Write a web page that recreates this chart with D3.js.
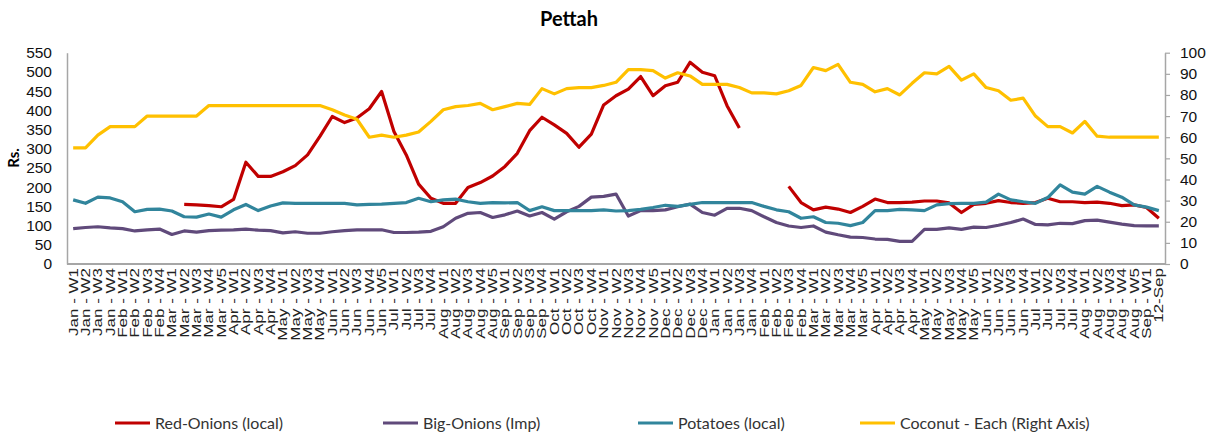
<!DOCTYPE html>
<html lang="en">
<head>
<meta charset="UTF-8">
<title>Pettah</title>
<script src="https://d3js.org/d3.v7.min.js"></script>
<style>
    body, html {
        margin: 0;
        background: #fff;
    }
    svg {
        display: block;
        font-family: Lato, "Open Sans", sans-serif;
    }
    .axis text {
        fill: #111;
    }
</style>
</head>
<body>
<svg width="1216" height="435"></svg>
<script>
// week labels along the x axis
const weeks = [
    "Jan - W1", "Jan - W2", "Jan - W3", "Jan - W4",
    "Feb - W1", "Feb - W2", "Feb - W3", "Feb - W4",
    "Mar - W1", "Mar - W2", "Mar - W3", "Mar - W4", "Mar - W5",
    "Apr - W1", "Apr - W2", "Apr - W3", "Apr - W4",
    "May - W1", "May - W2", "May - W3", "May - W4",
    "Jun - W1", "Jun - W2", "Jun - W3", "Jun - W4", "Jun - W5",
    "Jul - W1", "Jul - W2", "Jul - W3", "Jul - W4",
    "Aug - W1", "Aug - W2", "Aug - W3", "Aug - W4", "Aug - W5",
    "Sep - W1", "Sep - W2", "Sep - W3", "Sep - W4",
    "Oct - W1", "Oct - W2", "Oct - W3", "Oct - W4",
    "Nov - W1", "Nov - W2", "Nov - W3", "Nov - W4", "Nov - W5",
    "Dec - W1", "Dec - W2", "Dec - W3", "Dec - W4",
    "Jan - W1", "Jan - W2", "Jan - W3", "Jan - W4",
    "Feb - W1", "Feb - W2", "Feb - W3", "Feb - W4",
    "Mar - W1", "Mar - W2", "Mar - W3", "Mar - W4", "Mar - W5",
    "Apr - W1", "Apr - W2", "Apr - W3", "Apr - W4",
    "May - W1", "May - W2", "May - W3", "May - W4", "May - W5",
    "Jun - W1", "Jun - W2", "Jun - W3", "Jun - W4",
    "Jul - W1", "Jul - W2", "Jul - W3", "Jul - W4",
    "Aug - W1", "Aug - W2", "Aug - W3", "Aug - W4", "Aug - W5",
    "Sep - W1", "12-Sep"
];

// Rs. (left axis)
const redOnions = [
    null, null, null, null, null, null, null, null, null,
    155, 154, 152, 149, 168, 265, 228, 228, 240, 256, 284, 332,
    384, 368, 380, 404, 449, 345, 284, 208, 171, 158, 158, 199,
    212, 229, 254, 288, 347, 382, 362, 340, 304, 338, 414, 438,
    455, 488, 438, 464, 473, 525, 499, 490, 412, 354,
    null, null, null,
    202, 160, 141, 148, 143, 134, 150, 169, 160, 160, 161, 164,
    164, 159, 134, 155, 158, 165, 160, 158, 160, 171, 162, 162,
    160, 161, 158, 152, 154, 147, 119
];
const bigOnions = [
    92, 95, 97, 94, 92, 86, 89, 91, 77, 86, 83, 87, 88, 89, 91, 88,
    87, 81, 84, 80, 80, 84, 87, 89, 89, 89, 82, 82, 83, 85, 97, 119,
    132, 134, 121, 128, 138, 125, 134, 117, 136, 150, 174, 176, 182, 125,
    139, 139, 141, 149, 156, 134, 127, 145, 145, 139, 123, 108, 99, 95,
    99, 83, 76, 70, 69, 65, 64, 59, 59, 90, 90, 94, 90, 96, 95, 101,
    108, 117, 103, 102, 106, 105, 113, 114, 109, 104, 100, 99, 99
];
const potatoes = [
    167, 158, 174, 172, 162, 136, 142, 143, 138, 123, 122, 130, 122, 141,
    155, 139, 151, 159, 158, 158, 158, 158, 158, 154, 155, 156, 158, 160,
    171, 162, 167, 169, 162, 158, 160, 159, 160, 139, 149, 139, 139, 139,
    139, 141, 138, 139, 142, 147, 153, 150, 155, 160, 160, 160, 160, 160,
    150, 141, 136, 119, 123, 108, 106, 100, 108, 139, 139, 142, 141, 139,
    154, 157, 158, 158, 161, 182, 167, 162, 158, 173, 206, 187, 182, 202,
    187, 174, 154, 148, 139
];
// Rs. each (right axis)
const coconut = [
    55, 55, 61, 65, 65, 65, 70, 70, 70, 70, 70, 75, 75, 75, 75, 75, 75,
    75, 75, 75, 75, 73, 70.5, 68.5, 60, 61, 60, 61, 62.5, 67.5, 73, 74.5,
    75, 76, 73, 74.5, 76, 75.5, 83, 80.5, 83, 83.5, 83.5, 84.5, 86, 92,
    92, 91.5, 88, 90.5, 89, 85, 85, 85, 83.5, 81, 81, 80.5, 82, 84.5, 93,
    91.5, 94.5, 86, 85, 81.5, 83, 80, 85.5, 90.5, 90, 93.5, 87, 90, 83.5,
    82, 77.5, 78.5, 70, 65, 65, 62, 67.5, 60.5, 60, 60, 60, 60, 60
];

const leftTicks = d3.range(0, 551, 50);
const rightTicks = d3.range(0, 101, 10);

const series = [
    {name: "Red-Onions (local)", values: redOnions, color: "#C00000", axis: "left"},
    {name: "Big-Onions (Imp)", values: bigOnions, color: "#604A7B", axis: "left"},
    {name: "Potatoes (local)", values: potatoes, color: "#31859C", axis: "left"},
    {name: "Coconut - Each (Right Axis)", values: coconut, color: "#FFC000", axis: "right"}
];

const svg = d3.select("svg");
const plot = {left: 67, right: 1165, top: 52.7, bottom: 264};

const x = d3.scalePoint()
    .domain(d3.range(weeks.length))
    .range([plot.left, plot.right])
    .padding(0.5);
const yL = d3.scaleLinear().domain([0, 550]).range([plot.bottom, plot.top]);
const yR = d3.scaleLinear().domain([0, 100]).range([plot.bottom, plot.top]);

// title
svg.append("text")
    .attr("x", 569)
    .attr("y", 26)
    .attr("text-anchor", "middle")
    .style("font-size", "20px")
    .style("font-weight", "bold")
    .text("Pettah");

// left axis
const gL = svg.append("g")
    .attr("class", "axis")
    .attr("transform", `translate(${plot.left},0)`)
    .call(d3.axisLeft(yL).tickValues(leftTicks).tickSize(0).tickPadding(15).tickSizeOuter(0));
gL.select(".domain").attr("stroke", "#a6a6a6").attr("stroke-width", 1.5);
gL.selectAll("text").style("font-size", "15.5px");

// right axis
const gR = svg.append("g")
    .attr("class", "axis")
    .attr("transform", `translate(${plot.right},0)`)
    .call(d3.axisRight(yR).tickValues(rightTicks).tickSize(5).tickPadding(10).tickSizeOuter(0));
gR.select(".domain").attr("stroke", "#a6a6a6").attr("stroke-width", 1.5);
gR.selectAll(".tick line").attr("stroke", "#a6a6a6").attr("stroke-width", 1.2);
gR.selectAll("text").style("font-size", "15.5px");

// bottom axis line
svg.append("line")
    .attr("x1", plot.left).attr("x2", plot.right)
    .attr("y1", plot.bottom).attr("y2", plot.bottom)
    .attr("stroke", "#a6a6a6").attr("stroke-width", 2);

// y axis title
svg.append("text")
    .attr("transform", "translate(19,158) rotate(-90)")
    .attr("text-anchor", "middle")
    .style("font-size", "15px")
    .style("font-weight", "bold")
    .text("Rs.");

// x labels, stretched along their length as in the original picture
const xl = svg.append("g").attr("class", "axis");
const labels = xl.selectAll("text")
    .data(weeks)
    .enter().append("text")
    .attr("text-anchor", "end")
    .style("font-size", "12.5px")
    .style("font-family", "'Liberation Sans', Arial, sans-serif")
    .style("fill", "#222")
    .text(d => d);
const probe = labels.filter((d, i) => i === 0).node().getComputedTextLength();
const k = 68 / probe;
labels.attr("transform", (d, i) => `translate(${x(i) + 4.5},${plot.bottom + 4}) rotate(-90) scale(${k},1)`);

// lines
series.forEach(s => {
    const y = s.axis === "left" ? yL : yR;
    const line = d3.line()
        .defined(d => d != null)
        .x((d, i) => x(i))
        .y(d => y(d));
    svg.append("path")
        .datum(s.values)
        .attr("fill", "none")
        .attr("stroke", s.color)
        .attr("stroke-width", 3.2)
        .attr("stroke-linejoin", "round")
        .attr("d", line);
});

// legend
const legendX = [115, 383, 638, 860];
const legend = svg.append("g")
    .selectAll("g")
    .data(series)
    .enter().append("g")
    .attr("transform", (d, i) => `translate(${legendX[i]},423)`);
legend.append("line")
    .attr("x1", 0).attr("x2", 35)
    .attr("stroke", d => d.color)
    .attr("stroke-width", 3.2);
legend.append("text")
    .attr("x", 40)
    .attr("dy", "0.35em")
    .style("font-size", "16px")
    .style("fill", "#333")
    .text(d => d.name);
</script>
</body>
</html>
